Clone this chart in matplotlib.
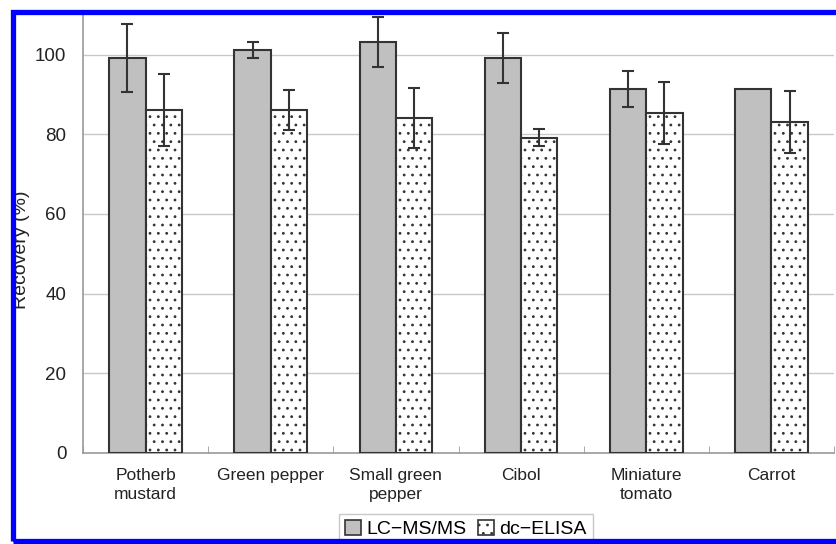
import matplotlib
matplotlib.use("Agg")
import matplotlib.pyplot as plt
import numpy as np
from matplotlib.patches import Rectangle, Patch

plt.rcParams['font.family'] = ['Liberation Sans', 'DejaVu Sans']
plt.rcParams['hatch.color'] = '#444444'
plt.rcParams['hatch.linewidth'] = 0.8

categories = ["Potherb\nmustard", "Green pepper", "Small green\npepper", "Cibol", "Miniature\ntomato", "Carrot"]
lc_values = [99.2, 101.2, 103.2, 99.3, 91.4, 91.4]
lc_errors = [8.5, 1.9, 6.3, 6.3, 4.6, 0.0]
elisa_values = [86.1, 86.1, 84.1, 79.2, 85.4, 83.1]
elisa_errors = [9.1, 5.0, 7.5, 2.1, 7.8, 7.8]
series_names = ["LC\u2212MS/MS", "dc\u2212ELISA"]
y_ticks = [0, 20, 40, 60, 80, 100]

W, H = 836, 544
fig = plt.figure(figsize=(W / 100, H / 100), dpi=100)
ax = fig.add_axes([83 / W, 1 - 452.7 / H, (834 - 83) / W, (452.7 - 15) / H])

n = len(categories)
centers = np.arange(n) + 0.5
bw = 0.29
edge = '#333333'

ax.bar(centers - bw / 2, lc_values, bw, color='#c0c0c0', edgecolor=edge, linewidth=1.5, zorder=3)
ax.bar(centers + bw / 2, elisa_values, bw, color='white', edgecolor=edge, linewidth=1.5,
       hatch='..', zorder=3)

lc_v = np.array(lc_values); lc_e = np.array(lc_errors)
m = lc_e > 0
ax.errorbar((centers - bw / 2)[m], lc_v[m], yerr=lc_e[m], fmt='none', ecolor=edge,
            elinewidth=1.5, capsize=4.3, capthick=1.5, zorder=4)
ax.errorbar(centers + bw / 2, elisa_values, yerr=elisa_errors, fmt='none', ecolor=edge,
            elinewidth=1.5, capsize=4.3, capthick=1.5, zorder=4)

ax.set_xlim(0, n)
ax.set_ylim(0, 110)
ax.set_yticks(y_ticks)
ax.set_yticklabels([str(v) for v in y_ticks], fontsize=13.5)
ax.yaxis.grid(True, color='#c8c8c8', linewidth=1, zorder=0)
ax.tick_params(axis='y', length=0, pad=12, colors='#222222')

ax.set_xticks(centers)
ax.set_xticklabels(categories, fontsize=12.5, linespacing=1.3)
ax.set_xticks(np.arange(n + 1), minor=True)
ax.tick_params(axis='x', which='major', length=0, pad=11, colors='#222222')
ax.tick_params(axis='x', which='minor', direction='in', length=5, color='#999999')

for s in ['top', 'right']:
    ax.spines[s].set_visible(False)
for s in ['left', 'bottom']:
    ax.spines[s].set_color('#999999')
    ax.spines[s].set_linewidth(1.2)

fig.text(22 / W, 1 - 250 / H, "Recovery (%)", rotation=90, ha='center', va='center',
         fontsize=14, color='#222222')

handles = [Patch(facecolor='#c0c0c0', edgecolor=edge, linewidth=1.2),
           Patch(facecolor='white', edgecolor=edge, linewidth=1.2, hatch='..')]
leg = fig.legend(handles, series_names, loc='center', bbox_to_anchor=(466 / W, 1 - 529 / H),
                 ncol=2, fontsize=14, frameon=True, fancybox=False, handlelength=0.8,
                 handleheight=0.8, handletextpad=0.3, columnspacing=0.6, borderpad=0.3)
leg.get_frame().set_edgecolor('#bbbbbb')
leg.get_frame().set_linewidth(1)

fig.patches.append(Rectangle((12.5 / W, 1 - 541 / H), (860 - 12.5) / W, (541 - 12) / H,
                             transform=fig.transFigure, fill=False, edgecolor='#0000ff',
                             linewidth=3.8, zorder=10))

fig.savefig("out.png", dpi=100)
